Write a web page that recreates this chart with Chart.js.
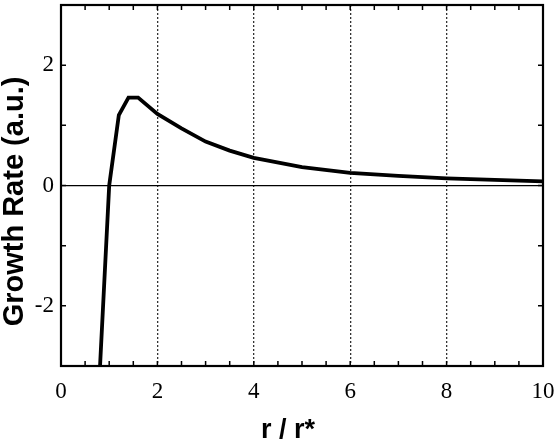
<!DOCTYPE html>
<html>
<head>
<meta charset="utf-8">
<script src="https://cdn.jsdelivr.net/npm/chart.js@4"></script>
<style>
  html, body { margin: 0; padding: 0; background: #fff; }
  #wrap { width: 557px; height: 446px; }
</style>
</head>
<body>
<div id="wrap"><canvas id="growthChart"></canvas></div>
<script>
// values
const radiusRatio = [0.81, 1.0, 1.2, 1.4, 1.6, 2.0, 2.5, 3.0, 3.5, 4.0, 5.0, 6.0, 7.0, 8.0, 9.0, 10.0];
const growthRate = [-3.0, 0.0, 1.17, 1.46, 1.46, 1.19, 0.95, 0.73, 0.58, 0.46, 0.305, 0.21, 0.16, 0.12, 0.095, 0.07];
const xTickValues = [0, 2, 4, 6, 8, 10];
const yTickLabels = [-2, 0, 2];
const xTitle = 'r / r*';
const yTitle = 'Growth Rate (a.u.)';

// inward minor ticks + closed frame + axis titles (the originals sit a bit off-centre)
const frameTicks = {
    id: 'frameTicks',
    afterDatasetsDraw(chart) {
        const { ctx, chartArea: a, scales: { x, y } } = chart;
        ctx.save();
        ctx.strokeStyle = '#000';
        ctx.lineWidth = 1.5;
        ctx.beginPath();
        for (let v = 0.5; v < 10; v += 0.5) {
            const px = x.getPixelForValue(v);
            ctx.moveTo(px, a.bottom); ctx.lineTo(px, a.bottom - 5);
            ctx.moveTo(px, a.top); ctx.lineTo(px, a.top + 5);
        }
        for (let v = -2; v <= 2; v++) {
            const py = y.getPixelForValue(v);
            ctx.moveTo(a.left, py); ctx.lineTo(a.left + 5, py);
            ctx.moveTo(a.right, py); ctx.lineTo(a.right - 5, py);
        }
        ctx.stroke();
        ctx.lineWidth = 2.2;
        ctx.strokeRect(a.left, a.top, a.right - a.left, a.bottom - a.top);

        ctx.fillStyle = '#000';
        ctx.textAlign = 'center';
        ctx.textBaseline = 'middle';
        ctx.font = 'bold 27px "Liberation Sans"';
        ctx.fillText(xTitle, (a.left + a.right) / 2 - 14, 431);
        ctx.translate(15, (a.top + a.bottom) / 2 + 16);
        ctx.rotate(-Math.PI / 2);
        ctx.font = 'bold 29px "Liberation Sans"';
        ctx.fillText(yTitle, 0, 0);
        ctx.restore();
    }
};

const noEdgePadding = s => {
    s.paddingTop = 0; s.paddingBottom = 0;
    s.paddingLeft = 0; s.paddingRight = 0;
};

const ctx = document.getElementById('growthChart').getContext('2d');
new Chart(ctx, {
    type: 'line',
    data: {
        datasets: [{
            data: radiusRatio.map((r, i) => ({ x: r, y: growthRate[i] })),
            borderColor: '#000',
            borderWidth: 3.8,
            pointRadius: 0,
            tension: 0,
            fill: false
        }]
    },
    options: {
        responsive: true,
        maintainAspectRatio: false,
        animation: false,
        layout: { padding: { top: 5, right: 14, left: 0, bottom: 0 } },
        plugins: { legend: { display: false }, tooltip: { enabled: false } },
        scales: {
            x: {
                type: 'linear',
                min: 0,
                max: 10,
                afterBuildTicks: s => { s.ticks = xTickValues.map(v => ({ value: v })); },
                afterFit: s => { s.height = 80; noEdgePadding(s); },
                grid: {
                    drawTicks: false,
                    lineWidth: 1.3,
                    color: c => (c.tick && c.tick.value > 0 && c.tick.value < 10) ? '#333' : 'transparent'
                },
                border: { display: false, dash: [2, 2] },
                ticks: {
                    color: '#000',
                    padding: 12,
                    maxRotation: 0,
                    font: { family: 'Liberation Serif', size: 23 }
                }
            },
            y: {
                min: -3,
                max: 3,
                afterBuildTicks: s => { s.ticks = yTickLabels.map(v => ({ value: v })); },
                afterFit: s => { s.width = 61; noEdgePadding(s); },
                grid: {
                    drawTicks: false,
                    lineWidth: 1.3,
                    color: c => (c.tick && c.tick.value === 0) ? '#000' : 'transparent'
                },
                border: { display: false },
                ticks: {
                    color: '#000',
                    padding: 7,
                    font: { family: 'Liberation Serif', size: 23 }
                }
            }
        }
    },
    plugins: [frameTicks]
});
</script>
</body>
</html>
